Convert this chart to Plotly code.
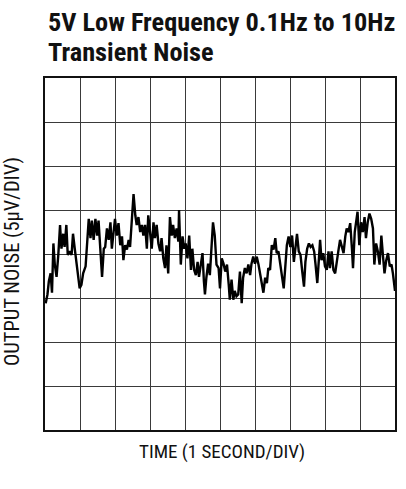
import plotly.graph_objects as go

# time in seconds (1 s/div), output noise in microvolts (5 uV/div)
time_s = [0.02, 0.07, 0.11, 0.16, 0.20, 0.24, 0.28, 0.33, 0.38, 0.43, 0.47, 0.52, 0.56, 0.61, 0.65,
          0.71, 0.76, 0.80, 0.85, 0.90, 0.95, 0.99, 1.04, 1.09, 1.16, 1.20, 1.25, 1.30, 1.34, 1.39,
          1.44, 1.49, 1.53, 1.58, 1.63, 1.68, 1.72, 1.77, 1.82, 1.87, 1.91, 1.96, 2.00, 2.05, 2.10,
          2.15, 2.20, 2.24, 2.29, 2.34, 2.39, 2.43, 2.48, 2.53, 2.58, 2.62, 2.67, 2.72, 2.77, 2.81,
          2.86, 2.91, 2.95, 3.00, 3.05, 3.10, 3.14, 3.19, 3.24, 3.29, 3.33, 3.38, 3.43, 3.47, 3.52,
          3.57, 3.62, 3.66, 3.71, 3.76, 3.81, 3.83, 3.88, 3.93, 3.98, 4.02, 4.07, 4.12, 4.17, 4.21,
          4.26, 4.31, 4.36, 4.40, 4.45, 4.50, 4.54, 4.57, 4.61, 4.66, 4.71, 4.75, 4.80, 4.85, 4.90,
          4.96, 5.00, 5.05, 5.10, 5.15, 5.20, 5.25, 5.28, 5.33, 5.38, 5.42, 5.47, 5.52, 5.57, 5.62,
          5.66, 5.71, 5.76, 5.81, 5.86, 5.90, 5.95, 6.00, 6.05, 6.10, 6.14, 6.19, 6.24, 6.29, 6.34,
          6.38, 6.43, 6.48, 6.53, 6.58, 6.62, 6.67, 6.72, 6.77, 6.82, 6.87, 6.91, 6.96, 7.01, 7.06,
          7.11, 7.15, 7.20, 7.25, 7.30, 7.35, 7.40, 7.44, 7.49, 7.54, 7.59, 7.64, 7.69, 7.73, 7.78,
          7.83, 7.86, 7.90, 7.95, 8.00, 8.05, 8.10, 8.14, 8.19, 8.24, 8.29, 8.34, 8.38, 8.43, 8.48,
          8.53, 8.58, 8.62, 8.67, 8.72, 8.77, 8.80, 8.85, 8.90, 8.93, 8.98, 9.03, 9.08, 9.13, 9.17,
          9.22, 9.27, 9.32, 9.37, 9.41, 9.46, 9.51, 9.56, 9.61, 9.65, 9.70, 9.75, 9.80, 9.85, 9.90,
          9.94, 9.99, 10.0]
noise_uv = [-5.6, -4.6, -3.1, -2.2, -4.4, 1.2, -1.2, -2.6, -0.1, 3.3, 0.6, 2.3, 0.8, 3.3, -0.1,
            0.3, -0.1, 2.3, 0.6, -1.2, -3.1, -3.9, -3.5, -2.2, -1.4, 1.0, 4.0, 1.8, 3.8, 1.6,
            4.0, 2.1, 3.8, 0.6, -2.6, 0.6, 0.8, 2.9, 1.6, 3.6, 0.6, 2.5, 4.0, 2.1, 3.5,
            1.0, 2.0, -0.7, 1.0, 0.5, 1.6, 0.8, 3.6, 6.8, 4.4, 3.3, 4.2, 2.5, 3.3, 2.1,
            3.3, 0.6, 4.4, 2.1, 0.6, 3.6, 1.8, 3.3, 1.2, 0.3, 1.8, -0.5, -1.6, 1.0, -2.2,
            4.2, 2.1, 3.3, 1.8, 2.9, 1.4, 5.0, -1.2, 2.0, 0.6, 1.2, -0.5, 2.1, -1.8, 0.6,
            -1.8, -2.4, -0.9, -2.6, -1.2, 0.1, -3.1, -4.6, -2.7, -1.1, -2.4, 0.6, 3.6, 2.1, -1.2,
            -1.6, -3.9, -0.5, -1.1, -2.0, -1.2, -3.5, -5.2, -2.9, -5.2, -4.2, -4.8, -4.6, -2.0, -5.6,
            -2.7, -1.6, -2.2, -1.2, -2.4, -1.1, -0.3, -1.1, -0.3, -1.2, -2.2, -3.1, -4.4, -2.7, -3.3,
            -1.6, -1.8, 1.0, 0.5, 1.8, 0.1, 0.3, -1.1, -2.6, -3.9, -1.2, 1.0, 2.0, 0.8, 2.1,
            -0.9, 0.5, 2.3, 0.3, -0.1, -2.0, -3.7, -0.9, 0.6, 1.2, 0.8, 1.0, 0.3, -1.2, -3.3,
            -0.3, 1.6, -0.7, 0.1, -1.4, -1.8, 0.3, -1.6, 0.3, -1.8, -2.2, -0.5, 0.3, 1.6, 0.8,
            0.1, 2.0, 2.9, 2.5, 3.5, 0.6, -1.6, 2.5, 4.0, 4.8, 1.0, 3.6, 2.5, 4.2, 1.8,
            3.6, 4.6, 4.0, 2.9, -1.2, 1.2, 0.3, -1.2, 2.1, 0.1, -2.2, -0.7, 0.1, -1.4, -1.2,
            -2.2, -3.5, -4.2]

title_lines = ["5V Low Frequency 0.1Hz to 10Hz", "Transient Noise"]
x_label = "TIME (1 SECOND/DIV)"
y_label = "OUTPUT NOISE (5µV/DIV)"

narrow = "Liberation Sans Narrow, Arial Narrow, Roboto Condensed, Liberation Sans, Arial, sans-serif"

fig = go.Figure()
fig.add_trace(go.Scatter(x=time_s, y=noise_uv, mode="lines",
                         line=dict(color="#000000", width=2.4), showlegend=False,
                         hoverinfo="skip"))

axis_common = dict(showticklabels=False, ticks="", showgrid=True, gridcolor="#3a3a3a",
                   gridwidth=1.3, zeroline=False, showline=True, linecolor="#111111",
                   linewidth=2, mirror=True, fixedrange=True)
fig.update_xaxes(range=[0, 10], dtick=1, tick0=0, **axis_common)
fig.update_yaxes(range=[-20, 20], dtick=5, tick0=-20, **axis_common)

for line_text, shift in zip(title_lines, [56, 26]):
    fig.add_annotation(text="<b>" + line_text + "</b>", xref="paper", yref="paper",
                       x=0, y=1.0, xshift=1, yshift=shift, xanchor="left", yanchor="middle",
                       align="left", showarrow=False,
                       font=dict(family=narrow, size=26.3, color="#111111"))
fig.add_annotation(text=x_label, xref="paper", yref="paper", x=0.5, y=0, xshift=2, yshift=-21,
                   xanchor="center", yanchor="middle", showarrow=False,
                   font=dict(family=narrow, size=19, color="#111111"))
fig.add_annotation(text=y_label, xref="paper", yref="paper", x=0, y=0.5, xshift=-33, yshift=-8,
                   xanchor="center", yanchor="middle", textangle=-90, showarrow=False,
                   font=dict(family=narrow, size=20.5, color="#111111"))

fig.update_layout(width=406, height=489, margin=dict(l=45, r=9, t=78, b=59),
                  paper_bgcolor="white", plot_bgcolor="white")

# remove the browser's default 8px body margin so the figure sits at the window's corner
fig.write_html("out.html", config={"displayModeBar": False},
               post_script="document.body.style.margin='0';")
